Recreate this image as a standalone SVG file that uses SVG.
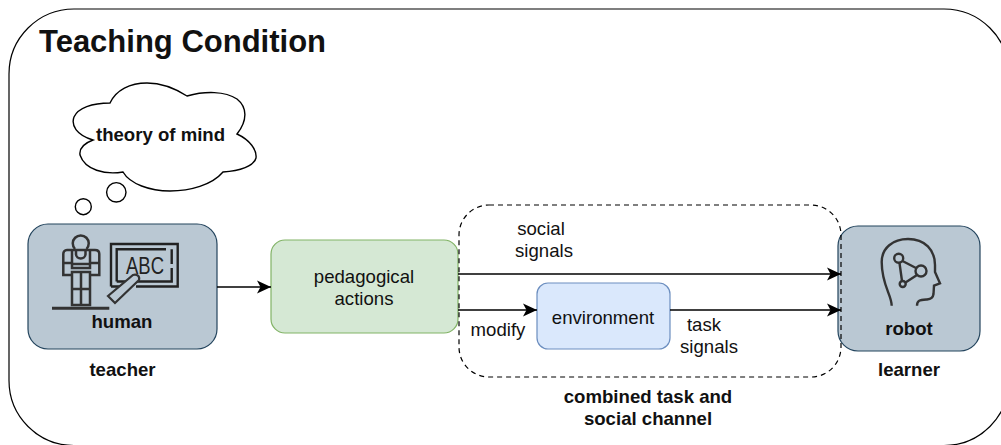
<svg xmlns="http://www.w3.org/2000/svg" width="1001" height="445" viewBox="0 0 1001 445">
<style>
text{font-family:"Liberation Sans",Arial,sans-serif;fill:#111;text-anchor:middle;font-size:18.600px}
.b{font-weight:bold}
.line{fill:none;stroke:#000;stroke-width:1.500}
.ico{fill:none;stroke:#333;stroke-width:2.400}
.card{fill:#bac8d3;stroke:#23445d;stroke-width:1.200}
</style>
<defs><marker id="arr" markerUnits="userSpaceOnUse" markerWidth="16" markerHeight="14" refX="14" refY="7" orient="auto"><path d="M0,0.500 L14,7 L0,13.500 L3.500,7Z" fill="#000"/></marker></defs>
<rect width="1001" height="445" fill="#fff"/>
<g id="frame"><rect x="9" y="9" width="1000" height="436.500" rx="65" ry="65" fill="#fff" stroke="#000" stroke-width="1.200"/><text x="39" y="52" class="b" style="font-size:31px;text-anchor:start">Teaching Condition</text></g>
<g id="thought">
<path d="M93,140C76,135 71,125 74,117C78,108 92,103 110,103C116,90 130,83 147,83C162,83 176,89 187,96C205,91 225,91 237,99C247,107 248,120 237,134C250,140 257,150 256,158C254,166 240,171 223,172C212,185 190,191 170,191C150,191 130,184 123,172C105,175 85,170 80,155C79,148 85,143 93,140Z" fill="#fff" stroke="#000" stroke-width="1.400"/>
<text x="160.500" y="141" class="b">theory of mind</text>
<circle cx="116.300" cy="192.300" r="9.700" fill="#fff" stroke="#000" stroke-width="1.400"/>
<circle cx="83.300" cy="206.700" r="8" fill="#fff" stroke="#000" stroke-width="1.400"/>
</g>
<g id="teacher">
<rect class="card" x="28" y="224" width="189" height="125" rx="20"/>
<g fill="none" stroke="#333" stroke-width="2.500">
<path d="M75,249A8,8 0 1 1 86.500,249"/>
<path d="M72,250H90V268H72ZM72,250H67C64.500,250 63.300,252 63.300,254V275H71.500M90,250H95C98,250 99.300,252 99.300,254V275H90.500M63.300,263H71.500M90.500,263H99.300M76,250V254C76,260 85.500,260 85.500,254V250M72,264H90M72,272H90V305H72ZM81,272V305M72,289H90"/>
</g>
<path d="M52,308.300H109.300" stroke="#333" stroke-width="3" fill="none"/>
<path class="ico" style="stroke:#222" d="M111,286.500V244H177.700V286.500H136M111,286.500H122M116.700,281.500V249.300H166M171.700,249.300V264M171.700,268V281.500H137M116.700,281.500H130"/>
<text x="145" y="274" textLength="38" lengthAdjust="spacingAndGlyphs" style="font-size:23.500px;fill:#222">ABC</text>
<path d="M108,296L115,303L139,280C140,276 137,274 133,275Z" fill="#bac8d3" stroke="#333" stroke-width="2.200"/>
<text x="122" y="328" class="b">human</text>
</g>
<text id="teacher-label" x="122.500" y="376" class="b">teacher</text>
<g id="actions"><rect x="271" y="240" width="187" height="93" rx="14" fill="#d5e8d4" stroke="#82b366" stroke-width="1.200"/><text x="364" y="283">pedagogical</text><text x="364" y="305">actions</text></g>
<g id="environment"><rect x="537" y="283" width="133" height="66" rx="11" fill="#dae8fc" stroke="#6c8ebf" stroke-width="1.200"/><text x="603" y="324">environment</text></g>
<g id="learner">
<rect class="card" x="838" y="226" width="142" height="125" rx="20"/>
<path class="ico" d="M891.700,305.700C891.700,295 881.700,285 881.700,262C881.700,248 893,239 908,239C925,239 935,250 935,265V272L940,283.300L934,285.700L933.500,294C933,298 931,299 927,299.500C920,300 917,300 917,305.700"/>
<circle class="ico" cx="898.700" cy="258.300" r="4.500"/><circle class="ico" cx="921" cy="271" r="5.500"/><circle class="ico" cx="902.700" cy="284" r="3"/>
<path class="ico" d="M902.500,261L916,268M899.500,263L902,281M905.500,282.500L917,275"/>
<text x="909" y="335" class="b">robot</text>
</g>
<text id="learner-label" x="909" y="376" class="b">learner</text>
<g id="channel"><rect x="459" y="205" width="382" height="172" rx="30" fill="none" stroke="#000" stroke-width="1.200" stroke-dasharray="5 4"/><text x="648" y="403" class="b">combined task and</text><text x="648" y="425" class="b">social channel</text></g>
<g id="connectors">
<path class="line" d="M217,287H271" marker-end="url(#arr)"/>
<path class="line" d="M458,274H841" marker-end="url(#arr)"/>
<path class="line" d="M458,310H537" marker-end="url(#arr)"/>
<path class="line" d="M670,310H841" marker-end="url(#arr)"/>
</g>
<g id="labels"><text x="541" y="235">social</text><text x="544" y="257">signals</text><text x="498" y="336">modify</text><text x="704" y="331">task</text><text x="709" y="353">signals</text></g>
</svg>
